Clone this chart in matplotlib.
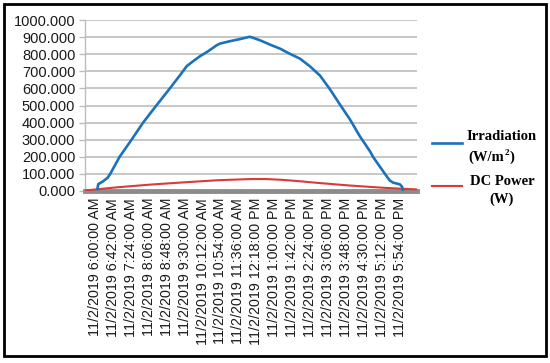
import matplotlib.pyplot as plt
from matplotlib.lines import Line2D
from matplotlib.patches import Rectangle

# minutes after 6:00 AM
irr_min = [6, 8, 19, 30, 36, 58, 86, 113, 144, 174, 199, 215, 230, 246, 265,
           285, 293, 316, 339, 363, 386, 410, 433, 456, 480, 503, 527, 550, 573,
           597, 620, 644, 651, 679, 690, 698, 714, 719, 721]
irr_val = [12, 40, 56, 78, 100, 200, 300, 400, 500, 595, 676, 730, 759, 788, 817,
           852, 862, 876, 888, 902, 882, 856, 833, 803, 774, 730, 675, 596, 508,
           419, 321, 232, 200, 100, 62, 49, 39, 25, 5]

dc_min = [-23, 54, 133, 211, 288, 367, 400, 440, 480, 519, 597, 674, 754]
dc_val = [3, 22, 38, 51, 63, 70, 70, 65, 57, 48, 32, 19, 9]

tick_min = [0, 42, 84, 126, 168, 210, 252, 294, 336, 378, 420, 462, 504, 546, 588, 630, 672, 714]
tick_labels = ['11/2/2019 6:00:00 AM', '11/2/2019 6:42:00 AM', '11/2/2019 7:24:00 AM',
               '11/2/2019 8:06:00 AM', '11/2/2019 8:48:00 AM', '11/2/2019 9:30:00 AM',
               '11/2/2019 10:12:00 AM', '11/2/2019 10:54:00 AM', '11/2/2019 11:36:00 AM',
               '11/2/2019 12:18:00 PM', '11/2/2019 1:00:00 PM', '11/2/2019 1:42:00 PM',
               '11/2/2019 2:24:00 PM', '11/2/2019 3:06:00 PM', '11/2/2019 3:48:00 PM',
               '11/2/2019 4:30:00 PM', '11/2/2019 5:12:00 PM', '11/2/2019 5:54:00 PM']

plt.rcParams['font.family'] = ['Liberation Sans', 'DejaVu Sans']

W, H = 550, 363
fig = plt.figure(figsize=(W / 100, H / 100), dpi=100)

# plot area in pixels: x 85..417, y 20..191
ax = fig.add_axes([85 / W, 1 - 191 / H, 332 / W, 171 / H])

ax.plot(dc_min, dc_val, color='#d83b3b', lw=1.5, zorder=3)
ax.plot(irr_min, irr_val, color='#1a72bb', lw=1.9, zorder=4)

ax.set_xlim(-23, 754)
ax.set_ylim(0, 1000)
ax.set_yticks(range(0, 1001, 100))
ax.set_yticklabels([f'{v:.3f}' for v in range(0, 1001, 100)], fontsize=10.5, color='#1a1a1a')
ax.set_xticks(tick_min)
ax.set_xticklabels(tick_labels, rotation=90, fontsize=10.3, color='#1a1a1a')

ax.grid(axis='y', color='#bdbdbd', lw=1.2)
ax.set_axisbelow(True)
for s in ['top', 'right']:
    ax.spines[s].set_visible(False)
ax.spines['left'].set_color('#bdbdbd')
ax.spines['left'].set_linewidth(1.0)
ax.spines['bottom'].set_color('#8c8c8c')
ax.spines['bottom'].set_linewidth(3.5)
ax.tick_params(axis='y', length=4, width=1, color='#bdbdbd', pad=3)
ax.tick_params(axis='x', length=0, pad=5)

# legend on the right
def px(x, y):
    return x / W, 1 - y / H

serif = ['Liberation Serif', 'DejaVu Serif']
fig.add_artist(Line2D([432 / W, 462 / W], [1 - 143 / H] * 2, color='#1a72bb', lw=1.9))
fig.add_artist(Line2D([432 / W, 462 / W], [1 - 186 / H] * 2, color='#d83b3b', lw=1.5))
fig.text(*px(502, 137), 'Irradiation', family=serif, weight='bold', fontsize=10.5,
         ha='center', va='center')
fig.text(*px(486, 157), '(W/m', family=serif, weight='bold', fontsize=10.5,
         ha='center', va='center')
fig.text(*px(506.5, 153), '2', family=serif, weight='bold', fontsize=6.5,
         ha='center', va='center')
fig.text(*px(511.5, 157), ')', family=serif, weight='bold', fontsize=10.5,
         ha='center', va='center')
fig.text(*px(502, 181), 'DC Power', family=serif, weight='bold', fontsize=10.5,
         ha='center', va='center')
fig.text(*px(502, 199), '(W)', family=serif, weight='bold', fontsize=10.5,
         ha='center', va='center')

# outer frame
fig.add_artist(Rectangle((4 / W, 1 - 356 / H), 542 / W, 352 / H, fill=False,
                         edgecolor='black', lw=2, transform=fig.transFigure))

fig.savefig('out.png', dpi=100)
